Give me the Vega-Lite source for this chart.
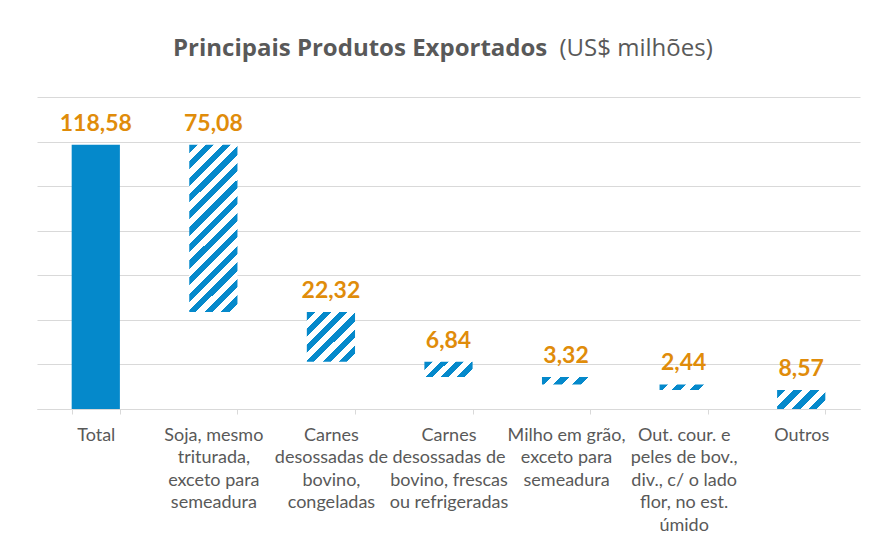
{
  "$schema": "https://vega.github.io/schema/vega-lite/v6.json",
  "width": 823,
  "height": 312,
  "autosize": {"type": "none"},
  "padding": {"left": 37, "top": 97, "right": 20, "bottom": 138},
  "background": "#FFFFFF",
  "config": {
    "view": {"stroke": null},
    "locale": {"number": {"decimal": ",", "thousands": ".", "grouping": [3], "currency": ["US$", ""]}},
    "font": "Lato"
  },
  "title": {
    "text": "Principais Produtos Exportados",
    "subtitle": "\u200b\u00a0\u00a0\u00a0\u00a0\u00a0\u00a0\u00a0\u00a0\u00a0\u00a0\u00a0\u00a0\u00a0\u00a0\u00a0\u00a0\u00a0\u00a0\u00a0\u00a0\u00a0\u00a0\u00a0\u00a0\u00a0\u00a0\u00a0\u00a0\u00a0\u00a0\u00a0\u00a0\u00a0\u00a0\u00a0\u00a0\u00a0\u00a0\u00a0\u00a0\u00a0\u00a0\u00a0\u00a0\u00a0\u00a0\u00a0\u00a0\u00a0\u00a0\u00a0\u00a0\u00a0\u00a0\u00a0\u00a0\u00a0\u00a0\u00a0\u00a0\u00a0\u00a0(US$ milhões)",
    "anchor": "start",
    "frame": "group",
    "dx": 136,
    "offset": 36,
    "font": "Open Sans",
    "fontSize": 24,
    "fontWeight": "bold",
    "color": "#595959",
    "subtitleFont": "Open Sans",
    "subtitleFontSize": 24,
    "subtitleFontWeight": "normal",
    "subtitleColor": "#595959",
    "subtitlePadding": -24
  },
  "data": {
    "values": [
      {"k": 0, "cat": "Total", "lo": 0, "hi": 118.58, "value": 118.58},
      {"k": 1, "cat": "Soja, mesmo\ntriturada,\nexceto para\nsemeadura", "lo": 43.5, "hi": 118.58, "value": 75.08},
      {"k": 2, "cat": "Carnes\ndesossadas de\nbovino,\ncongeladas", "lo": 21.18, "hi": 43.5, "value": 22.32},
      {"k": 3, "cat": "Carnes\ndesossadas de\nbovino, frescas\nou refrigeradas", "lo": 14.34, "hi": 21.18, "value": 6.84},
      {"k": 4, "cat": "Milho em grão,\nexceto para\nsemeadura", "lo": 11.02, "hi": 14.34, "value": 3.32},
      {"k": 5, "cat": "Out. cour. e\npeles de bov.,\ndiv., c/ o lado\nflor, no est.\númido", "lo": 8.58, "hi": 11.02, "value": 2.44},
      {"k": 6, "cat": "Outros", "lo": 0, "hi": 8.57, "value": 8.57}
    ]
  },
  "encoding": {
    "x": {
      "field": "cat",
      "type": "nominal",
      "sort": null,
      "scale": {"paddingInner": 0.59, "paddingOuter": 0.295},
      "axis": {
        "title": null,
        "labelAngle": 0,
        "labelExpr": "split(datum.label, '\\n')",
        "labelFont": "Lato",
        "labelFontSize": 18,
        "labelColor": "#595959",
        "labelLineHeight": 22.6,
        "labelBaseline": "top",
        "labelPadding": 12,
        "labelOverlap": false,
        "labelLimit": 0,
        "domainColor": "#D9D9D9",
        "tickColor": "#D9D9D9",
        "tickBand": "extent",
        "tickSize": 5,
        "grid": false
      }
    }
  },
  "layer": [
    {
      "mark": {"type": "bar"},
      "encoding": {
        "y": {
          "field": "lo",
          "type": "quantitative",
          "scale": {"domain": [0, 140], "nice": false},
          "axis": {
            "title": null,
            "labels": false,
            "ticks": false,
            "domain": false,
            "grid": true,
            "gridColor": "#D9D9D9",
            "gridWidth": 1,
            "values": [0, 20, 40, 60, 80, 100, 120, 140]
          }
        },
        "y2": {"field": "hi"},
        "fill": {
          "condition": [
            {"test": "datum.k === 1", "value": {"gradient": "linear", "x1": 0, "y1": 0, "x2": 0.3411, "y2": 1.189, "stops": [
              {"offset": 0, "color": "#0589CB"}, {"offset": 0.0385, "color": "#0589CB"}, {"offset": 0.0385, "color": "#FFFFFF"}, {"offset": 0.0769, "color": "#FFFFFF"},
              {"offset": 0.0769, "color": "#0589CB"}, {"offset": 0.1154, "color": "#0589CB"}, {"offset": 0.1154, "color": "#FFFFFF"}, {"offset": 0.1538, "color": "#FFFFFF"},
              {"offset": 0.1538, "color": "#0589CB"}, {"offset": 0.1923, "color": "#0589CB"}, {"offset": 0.1923, "color": "#FFFFFF"}, {"offset": 0.2308, "color": "#FFFFFF"},
              {"offset": 0.2308, "color": "#0589CB"}, {"offset": 0.2692, "color": "#0589CB"}, {"offset": 0.2692, "color": "#FFFFFF"}, {"offset": 0.3077, "color": "#FFFFFF"},
              {"offset": 0.3077, "color": "#0589CB"}, {"offset": 0.3462, "color": "#0589CB"}, {"offset": 0.3462, "color": "#FFFFFF"}, {"offset": 0.3846, "color": "#FFFFFF"},
              {"offset": 0.3846, "color": "#0589CB"}, {"offset": 0.4231, "color": "#0589CB"}, {"offset": 0.4231, "color": "#FFFFFF"}, {"offset": 0.4615, "color": "#FFFFFF"},
              {"offset": 0.4615, "color": "#0589CB"}, {"offset": 0.5, "color": "#0589CB"}, {"offset": 0.5, "color": "#FFFFFF"}, {"offset": 0.5385, "color": "#FFFFFF"},
              {"offset": 0.5385, "color": "#0589CB"}, {"offset": 0.5769, "color": "#0589CB"}, {"offset": 0.5769, "color": "#FFFFFF"}, {"offset": 0.6154, "color": "#FFFFFF"},
              {"offset": 0.6154, "color": "#0589CB"}, {"offset": 0.6538, "color": "#0589CB"}, {"offset": 0.6538, "color": "#FFFFFF"}, {"offset": 0.6923, "color": "#FFFFFF"},
              {"offset": 0.6923, "color": "#0589CB"}, {"offset": 0.7308, "color": "#0589CB"}, {"offset": 0.7308, "color": "#FFFFFF"}, {"offset": 0.7692, "color": "#FFFFFF"},
              {"offset": 0.7692, "color": "#0589CB"}, {"offset": 0.8077, "color": "#0589CB"}, {"offset": 0.8077, "color": "#FFFFFF"}, {"offset": 0.8462, "color": "#FFFFFF"},
              {"offset": 0.8462, "color": "#0589CB"}, {"offset": 0.8846, "color": "#0589CB"}, {"offset": 0.8846, "color": "#FFFFFF"}, {"offset": 0.9231, "color": "#FFFFFF"},
              {"offset": 0.9231, "color": "#0589CB"}, {"offset": 0.9615, "color": "#0589CB"}, {"offset": 0.9615, "color": "#FFFFFF"}, {"offset": 1, "color": "#FFFFFF"}
            ]}},
            {"test": "datum.k === 2", "value": {"gradient": "linear", "x1": 0, "y1": 0, "x2": 0.982, "y2": 1.017, "stops": [
              {"offset": 0, "color": "#0589CB"}, {"offset": 0.0833, "color": "#0589CB"}, {"offset": 0.0833, "color": "#FFFFFF"}, {"offset": 0.1667, "color": "#FFFFFF"},
              {"offset": 0.1667, "color": "#0589CB"}, {"offset": 0.25, "color": "#0589CB"}, {"offset": 0.25, "color": "#FFFFFF"}, {"offset": 0.3333, "color": "#FFFFFF"},
              {"offset": 0.3333, "color": "#0589CB"}, {"offset": 0.4167, "color": "#0589CB"}, {"offset": 0.4167, "color": "#FFFFFF"}, {"offset": 0.5, "color": "#FFFFFF"},
              {"offset": 0.5, "color": "#0589CB"}, {"offset": 0.5833, "color": "#0589CB"}, {"offset": 0.5833, "color": "#FFFFFF"}, {"offset": 0.6667, "color": "#FFFFFF"},
              {"offset": 0.6667, "color": "#0589CB"}, {"offset": 0.75, "color": "#0589CB"}, {"offset": 0.75, "color": "#FFFFFF"}, {"offset": 0.8333, "color": "#FFFFFF"},
              {"offset": 0.8333, "color": "#0589CB"}, {"offset": 0.9167, "color": "#0589CB"}, {"offset": 0.9167, "color": "#FFFFFF"}, {"offset": 1, "color": "#FFFFFF"}
            ]}},
            {"test": "datum.k === 3", "value": {"gradient": "linear", "x1": 0, "y1": 0, "x2": 1.197, "y2": 0.38, "stops": [
              {"offset": 0, "color": "#0589CB"}, {"offset": 0.125, "color": "#0589CB"}, {"offset": 0.125, "color": "#FFFFFF"}, {"offset": 0.25, "color": "#FFFFFF"},
              {"offset": 0.25, "color": "#0589CB"}, {"offset": 0.375, "color": "#0589CB"}, {"offset": 0.375, "color": "#FFFFFF"}, {"offset": 0.5, "color": "#FFFFFF"},
              {"offset": 0.5, "color": "#0589CB"}, {"offset": 0.625, "color": "#0589CB"}, {"offset": 0.625, "color": "#FFFFFF"}, {"offset": 0.75, "color": "#FFFFFF"},
              {"offset": 0.75, "color": "#0589CB"}, {"offset": 0.875, "color": "#0589CB"}, {"offset": 0.875, "color": "#FFFFFF"}, {"offset": 1, "color": "#FFFFFF"}
            ]}},
            {"test": "datum.k === 4", "value": {"gradient": "linear", "x1": 0, "y1": 0, "x2": 1.127, "y2": 0.174, "stops": [
              {"offset": 0, "color": "#0589CB"}, {"offset": 0.1667, "color": "#0589CB"}, {"offset": 0.1667, "color": "#FFFFFF"}, {"offset": 0.3333, "color": "#FFFFFF"},
              {"offset": 0.3333, "color": "#0589CB"}, {"offset": 0.5, "color": "#0589CB"}, {"offset": 0.5, "color": "#FFFFFF"}, {"offset": 0.6667, "color": "#FFFFFF"},
              {"offset": 0.6667, "color": "#0589CB"}, {"offset": 0.8333, "color": "#0589CB"}, {"offset": 0.8333, "color": "#FFFFFF"}, {"offset": 1, "color": "#FFFFFF"}
            ]}},
            {"test": "datum.k === 5", "value": {"gradient": "linear", "x1": 0, "y1": 0, "x2": 1.099, "y2": 0.125, "stops": [
              {"offset": 0, "color": "#0589CB"}, {"offset": 0.1667, "color": "#0589CB"}, {"offset": 0.1667, "color": "#FFFFFF"}, {"offset": 0.3333, "color": "#FFFFFF"},
              {"offset": 0.3333, "color": "#0589CB"}, {"offset": 0.5, "color": "#0589CB"}, {"offset": 0.5, "color": "#FFFFFF"}, {"offset": 0.6667, "color": "#FFFFFF"},
              {"offset": 0.6667, "color": "#0589CB"}, {"offset": 0.8333, "color": "#0589CB"}, {"offset": 0.8333, "color": "#FFFFFF"}, {"offset": 1, "color": "#FFFFFF"}
            ]}},
            {"test": "datum.k === 6", "value": {"gradient": "linear", "x1": 0, "y1": 0, "x2": 1.207, "y2": 0.48, "stops": [
              {"offset": 0, "color": "#0589CB"}, {"offset": 0.125, "color": "#0589CB"}, {"offset": 0.125, "color": "#FFFFFF"}, {"offset": 0.25, "color": "#FFFFFF"},
              {"offset": 0.25, "color": "#0589CB"}, {"offset": 0.375, "color": "#0589CB"}, {"offset": 0.375, "color": "#FFFFFF"}, {"offset": 0.5, "color": "#FFFFFF"},
              {"offset": 0.5, "color": "#0589CB"}, {"offset": 0.625, "color": "#0589CB"}, {"offset": 0.625, "color": "#FFFFFF"}, {"offset": 0.75, "color": "#FFFFFF"},
              {"offset": 0.75, "color": "#0589CB"}, {"offset": 0.875, "color": "#0589CB"}, {"offset": 0.875, "color": "#FFFFFF"}, {"offset": 1, "color": "#FFFFFF"}
            ]}}
          ],
          "value": "#0589CB"
        }
      }
    },
    {
      "mark": {"type": "text", "font": "Lato", "fontSize": 23, "fontWeight": "bold", "color": "#E08C0A", "baseline": "alphabetic", "dy": -14},
      "encoding": {
        "y": {"field": "hi", "type": "quantitative"},
        "text": {"field": "value", "type": "quantitative", "format": ".2f"}
      }
    }
  ]
}
